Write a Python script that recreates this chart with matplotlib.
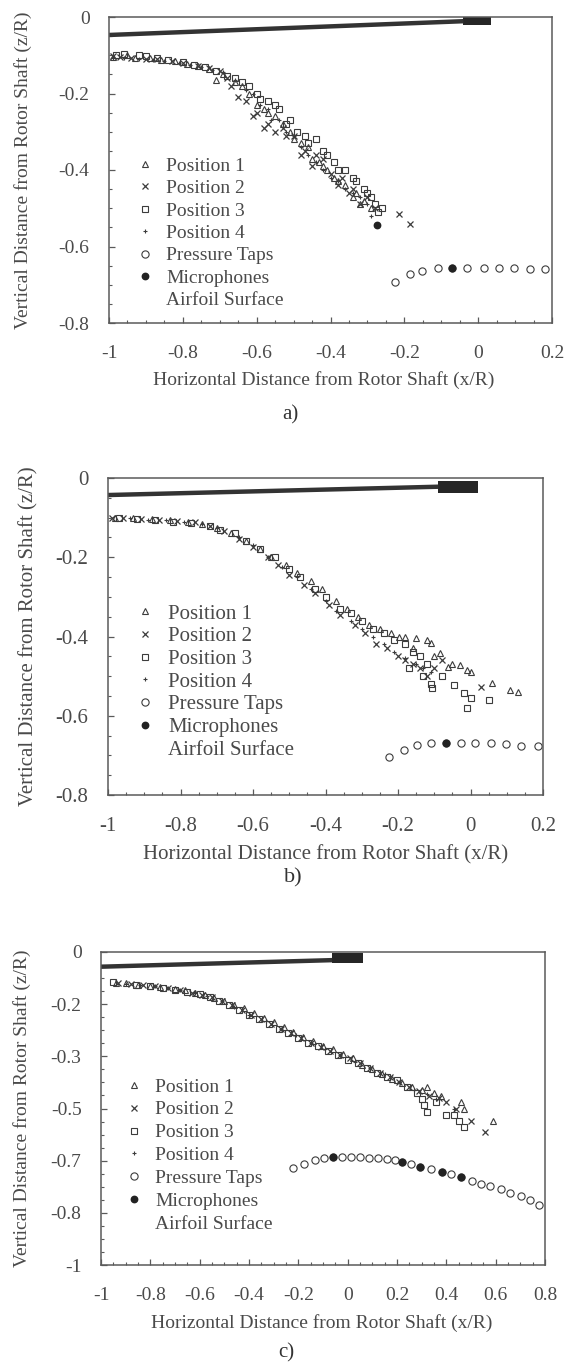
import matplotlib
matplotlib.use("Agg")
import matplotlib.pyplot as plt
from matplotlib.lines import Line2D
from matplotlib.patches import Rectangle
from matplotlib.ticker import AutoMinorLocator

plt.rcParams['font.family'] = ['Liberation Serif', 'DejaVu Serif']

# ---------------- data (x/R, z/R) ----------------
# panel a)
a_p1_x = [-0.99, -0.93, -0.86, -0.79, -0.73, -0.71, -0.66, -0.62, -0.58, -0.55, -0.51, -0.48, -0.45, -0.43, -0.41, -0.38, -0.36, -0.33, -0.31, -0.29,
          -0.95, -0.89, -0.82, -0.76, -0.69, -0.64, -0.6, -0.57, -0.53, -0.5, -0.46, -0.42, -0.39, -0.34, -0.32]
a_p1_y = [-0.105, -0.107, -0.112, -0.122, -0.135, -0.165, -0.17, -0.2, -0.24, -0.26, -0.3, -0.33, -0.37, -0.38, -0.4, -0.43, -0.44, -0.46, -0.48, -0.5,
          -0.1, -0.108, -0.114, -0.128, -0.15, -0.18, -0.23, -0.25, -0.28, -0.32, -0.34, -0.39, -0.42, -0.47, -0.49]
a_p2_x = [-0.97, -0.9, -0.83, -0.76, -0.7, -0.67, -0.65, -0.6, -0.57, -0.53, -0.5, -0.47, -0.44, -0.4, -0.37, -0.34, -0.3, -0.28, -0.215, -0.185,
          -0.99, -0.94, -0.87, -0.8, -0.73, -0.68, -0.63, -0.61, -0.58, -0.55, -0.52, -0.48, -0.45, -0.42, -0.38, -0.35, -0.32]
a_p2_y = [-0.104, -0.11, -0.115, -0.128, -0.14, -0.18, -0.21, -0.25, -0.28, -0.29, -0.31, -0.35, -0.36, -0.41, -0.42, -0.45, -0.47, -0.5, -0.514, -0.54,
          -0.102, -0.106, -0.11, -0.12, -0.133, -0.16, -0.22, -0.26, -0.29, -0.3, -0.31, -0.36, -0.39, -0.37, -0.44, -0.46, -0.49]
a_p3_x = [-0.98, -0.92, -0.87, -0.8, -0.74, -0.68, -0.64, -0.6, -0.57, -0.54, -0.52, -0.49, -0.46, -0.42, -0.39, -0.36, -0.33, -0.3, -0.28, -0.27,
          -0.96, -0.9, -0.84, -0.77, -0.71, -0.66, -0.62, -0.59, -0.55, -0.51, -0.47, -0.44, -0.41, -0.38, -0.34, -0.31, -0.29, -0.26]
a_p3_y = [-0.1, -0.1, -0.108, -0.118, -0.13, -0.155, -0.17, -0.2, -0.22, -0.24, -0.28, -0.3, -0.33, -0.35, -0.38, -0.4, -0.43, -0.46, -0.49, -0.51,
          -0.098, -0.103, -0.112, -0.125, -0.14, -0.16, -0.18, -0.215, -0.23, -0.27, -0.31, -0.32, -0.36, -0.4, -0.42, -0.45, -0.47, -0.5]
a_p4_x = [-0.96, -0.88, -0.81, -0.75, -0.69, -0.63, -0.59, -0.56, -0.52, -0.48, -0.44, -0.4, -0.36, -0.32, -0.29, -0.27,
          -0.99, -0.92, -0.85, -0.78, -0.72, -0.66, -0.61, -0.57, -0.54, -0.5, -0.46, -0.42, -0.38, -0.34, -0.3]
a_p4_y = [-0.108, -0.113, -0.12, -0.132, -0.145, -0.19, -0.23, -0.27, -0.3, -0.34, -0.38, -0.42, -0.45, -0.47, -0.52, -0.54,
          -0.108, -0.11, -0.116, -0.125, -0.138, -0.165, -0.2, -0.24, -0.27, -0.31, -0.36, -0.4, -0.43, -0.46, -0.49]
a_tap_x = [-0.226, -0.185, -0.152, -0.11, -0.07, -0.03, 0.015, 0.056, 0.097, 0.14, 0.18]
a_tap_y = [-0.693, -0.672, -0.663, -0.657, -0.655, -0.655, -0.655, -0.655, -0.656, -0.658, -0.66]
a_mic_x = [-0.07, -0.275]
a_mic_y = [-0.655, -0.545]

# panel b)
b_p1_x = [-0.98, -0.88, -0.78, -0.7, -0.62, -0.55, -0.48, -0.41, -0.34, -0.28, -0.22, -0.198, -0.15, -0.108, -0.084, -0.063, -0.03, -0.009, 0.0, 0.06, 0.11, 0.13,
          -0.93, -0.83, -0.74, -0.66, -0.58, -0.51, -0.44, -0.37, -0.31, -0.25, -0.18, -0.12, -0.16, -0.1, -0.05]
b_p1_y = [-0.1, -0.103, -0.11, -0.125, -0.16, -0.2, -0.24, -0.28, -0.33, -0.37, -0.39, -0.4, -0.405, -0.417, -0.442, -0.476, -0.472, -0.485, -0.49, -0.518, -0.535, -0.54,
          -0.1, -0.106, -0.115, -0.14, -0.18, -0.22, -0.26, -0.31, -0.35, -0.38, -0.4, -0.41, -0.43, -0.45, -0.47]
b_p2_x = [-0.96, -0.86, -0.76, -0.68, -0.6, -0.53, -0.46, -0.39, -0.32, -0.26, -0.2, -0.16, -0.12, -0.1, 0.03,
          -0.99, -0.91, -0.81, -0.72, -0.64, -0.56, -0.5, -0.43, -0.36, -0.29, -0.23, -0.18, -0.14, -0.08]
b_p2_y = [-0.1, -0.105, -0.112, -0.135, -0.175, -0.22, -0.27, -0.32, -0.37, -0.42, -0.45, -0.47, -0.5, -0.48, -0.527,
          -0.1, -0.103, -0.108, -0.12, -0.155, -0.2, -0.245, -0.29, -0.345, -0.39, -0.43, -0.46, -0.48, -0.46]
b_p3_x = [-0.92, -0.82, -0.72, -0.65, -0.58, -0.5, -0.43, -0.36, -0.3, -0.24, -0.18, -0.14, -0.17, -0.13, -0.105, -0.045, -0.019, 0.0, -0.01, 0.05,
          -0.97, -0.87, -0.77, -0.69, -0.62, -0.54, -0.47, -0.4, -0.33, -0.27, -0.21, -0.16, -0.12, -0.08, -0.11]
b_p3_y = [-0.104, -0.11, -0.12, -0.14, -0.18, -0.23, -0.28, -0.33, -0.36, -0.39, -0.42, -0.45, -0.48, -0.5, -0.531, -0.522, -0.543, -0.556, -0.581, -0.56,
          -0.102, -0.107, -0.114, -0.13, -0.16, -0.2, -0.25, -0.3, -0.34, -0.38, -0.41, -0.44, -0.47, -0.5, -0.52]
b_p4_x = [-0.94, -0.84, -0.74, -0.64, -0.56, -0.48, -0.4, -0.33, -0.27, -0.21, -0.15, -0.11,
          -0.89, -0.79, -0.7, -0.6, -0.52, -0.44, -0.37, -0.3, -0.24, -0.18, -0.13]
b_p4_y = [-0.1, -0.106, -0.115, -0.15, -0.2, -0.25, -0.31, -0.36, -0.4, -0.44, -0.47, -0.49,
          -0.105, -0.11, -0.125, -0.17, -0.225, -0.28, -0.335, -0.38, -0.42, -0.455, -0.48]
b_tap_x = [-0.225, -0.183, -0.147, -0.108, -0.067, -0.027, 0.012, 0.056, 0.098, 0.14, 0.185]
b_tap_y = [-0.703, -0.686, -0.674, -0.67, -0.668, -0.668, -0.67, -0.67, -0.672, -0.676, -0.677]
b_mic_x = [-0.067]
b_mic_y = [-0.668]

# panel c)
c_p1_x = [-0.94, -0.85, -0.76, -0.66, -0.58, -0.5, -0.42, -0.34, -0.26, -0.18, -0.1, -0.02, 0.06, 0.14, 0.22, 0.3, 0.32, 0.38, 0.46, 0.47, 0.59,
          -0.9, -0.8, -0.7, -0.62, -0.54, -0.46, -0.38, -0.3, -0.22, -0.14, -0.06, 0.02, 0.1, 0.18, 0.26, 0.35]
c_p1_y = [-0.098, -0.105, -0.112, -0.122, -0.138, -0.155, -0.18, -0.21, -0.24, -0.27, -0.3, -0.325, -0.36, -0.39, -0.42, -0.44, -0.43, -0.46, -0.48, -0.5, -0.54,
          -0.1, -0.108, -0.118, -0.13, -0.148, -0.168, -0.195, -0.225, -0.255, -0.285, -0.31, -0.34, -0.375, -0.405, -0.43, -0.45]
c_p2_x = [-0.93, -0.83, -0.73, -0.63, -0.55, -0.47, -0.39, -0.31, -0.23, -0.15, -0.07, 0.01, 0.09, 0.17, 0.25, 0.33, 0.4, 0.5, 0.556,
          -0.88, -0.78, -0.68, -0.59, -0.51, -0.43, -0.35, -0.27, -0.19, -0.11, -0.03, 0.05, 0.13, 0.21, 0.29, 0.37, 0.44]
c_p2_y = [-0.1, -0.107, -0.115, -0.13, -0.145, -0.17, -0.2, -0.23, -0.26, -0.29, -0.315, -0.34, -0.37, -0.4, -0.43, -0.46, -0.48, -0.54, -0.574,
          -0.103, -0.11, -0.122, -0.138, -0.158, -0.185, -0.215, -0.245, -0.275, -0.305, -0.33, -0.355, -0.385, -0.415, -0.445, -0.465, -0.5]
c_p3_x = [-0.95, -0.8, -0.7, -0.6, -0.52, -0.44, -0.36, -0.28, -0.2, -0.12, -0.04, 0.04, 0.12, 0.2, 0.28, 0.31, 0.32, 0.4, 0.45, 0.47,
          -0.86, -0.75, -0.65, -0.56, -0.48, -0.4, -0.32, -0.24, -0.16, -0.08, 0.0, 0.08, 0.16, 0.24, 0.3, 0.36, 0.43]
c_p3_y = [-0.097, -0.11, -0.12, -0.135, -0.155, -0.185, -0.215, -0.245, -0.275, -0.3, -0.33, -0.355, -0.385, -0.41, -0.45, -0.49, -0.51, -0.52, -0.54, -0.56,
          -0.105, -0.115, -0.128, -0.145, -0.17, -0.2, -0.23, -0.26, -0.29, -0.315, -0.345, -0.37, -0.4, -0.43, -0.47, -0.48, -0.52]
c_p4_x = [-0.9, -0.78, -0.68, -0.57, -0.46, -0.33, -0.21, -0.09, 0.03, 0.15, 0.27, 0.36, 0.43,
          -0.84, -0.73, -0.62, -0.51, -0.4, -0.27, -0.15, -0.03, 0.09, 0.21, 0.32]
c_p4_y = [-0.102, -0.11, -0.12, -0.14, -0.175, -0.22, -0.265, -0.31, -0.35, -0.39, -0.44, -0.47, -0.5,
          -0.106, -0.116, -0.13, -0.158, -0.2, -0.245, -0.29, -0.33, -0.37, -0.415, -0.455]
c_tap_x = [-0.221, -0.177, -0.133, -0.096, -0.060, -0.023, 0.014, 0.050, 0.087, 0.124, 0.160, 0.190, 0.219, 0.256,
           0.293, 0.336, 0.381, 0.417, 0.461, 0.505, 0.542, 0.579, 0.623, 0.659, 0.703, 0.740, 0.777]
c_tap_y = [-0.691, -0.678, -0.665, -0.659, -0.656, -0.656, -0.656, -0.656, -0.657, -0.659, -0.662, -0.665, -0.671, -0.678,
           -0.686, -0.694, -0.702, -0.709, -0.720, -0.732, -0.740, -0.748, -0.757, -0.769, -0.780, -0.792, -0.808]
c_mic_x = [-0.060, 0.219, 0.293, 0.381, 0.461]
c_mic_y = [-0.656, -0.671, -0.686, -0.702, -0.720]

# blade: (root x, root z, tip x, tip z) and hub block (x0, x1, z0, z1)
a_blade = [-1.0, -0.047, -0.04, -0.011]
a_hub = [-0.04, 0.035, -0.001, -0.021]
b_blade = [-1.0, -0.043, -0.089, -0.022]
b_hub = [-0.089, 0.02, -0.008, -0.038]
c_blade = [-1.0, -0.047, -0.063, -0.026]
c_hub = [-0.063, 0.062, -0.003, -0.036]

ab_xticks = [-1, -0.8, -0.6, -0.4, -0.2, 0, 0.2]
ab_xlabels = ['-1', '-0.8', '-0.6', '-0.4', '-0.2', '0', '0.2']
ab_yticks = [0, -0.2, -0.4, -0.6, -0.8]
ab_ylabels = ['0', '-0.2', '-0.4', '-0.6', '-0.8']
c_xticks = [-1, -0.8, -0.6, -0.4, -0.2, 0, 0.2, 0.4, 0.6, 0.8]
c_xlabels = ['-1', '-0.8', '-0.6', '-0.4', '-0.2', '0', '0.2', '0.4', '0.6', '0.8']
c_yticks = [0, -1/6, -2/6, -3/6, -4/6, -5/6, -1]
c_ylabels = ['0', '-0.2', '-0.3', '-0.5', '-0.7', '-0.8', '-1']

labels = ['Position 1', 'Position 2', 'Position 3', 'Position 4', 'Pressure Taps', 'Microphones', 'Airfoil Surface']

# ---------------- figure ----------------
W, H = 568, 1363
fig = plt.figure(figsize=(W / 100, H / 100), dpi=100)
fig.patch.set_facecolor('white')
dark = '#3c3c3c'
txt = '#4a4a4a'


def fx(px):
    return px / W


def fy(py):
    return 1 - py / H


def make_panel(box, xlim, ylim, xt, xl, yt, yl, fs, series, taps, mics, blade, hub,
               leg_xy, leg_sp, ylab_x, xlab_xy, cap_xy, cap):
    l, t, r, b = box
    ax = fig.add_axes([fx(l), fy(b), (r - l) / W, (b - t) / H])
    ax.set_xlim(xlim)
    ax.set_ylim(ylim)
    for s in ax.spines.values():
        s.set_color('#5a5a5a')
        s.set_linewidth(1.1)
    ax.set_xticks(xt)
    ax.set_xticklabels(xl)
    ax.set_yticks(yt)
    ax.set_yticklabels(yl)
    ax.xaxis.set_minor_locator(AutoMinorLocator(4))
    ax.yaxis.set_minor_locator(AutoMinorLocator(4))
    ax.tick_params(which='both', direction='in', colors='#5a5a5a', labelcolor=txt, labelsize=fs)
    ax.tick_params(which='major', length=4, width=0.9)
    ax.tick_params(which='minor', length=2.5, width=0.8)
    ax.tick_params(axis='x', which='major', pad=16)
    ax.tick_params(axis='y', which='major', pad=14)

    # blade and hub
    ax.plot([blade[0], blade[2]], [blade[1], blade[3]], color='#333333', lw=3.2, solid_capstyle='butt')
    ax.add_patch(Rectangle((hub[0], hub[3]), hub[1] - hub[0], hub[2] - hub[3], color='#262626', lw=0))

    styles = [dict(marker='^', ms=4.5, mfc='none', mew=0.8),
              dict(marker='x', ms=4.0, mew=0.9),
              dict(marker='s', ms=4.3, mfc='none', mew=0.8),
              dict(marker='+', ms=3.0, mew=0.8)]
    handles = []
    for (sx, sy), st, lab in zip(series, styles, labels[:4]):
        h, = ax.plot(sx, sy, ls='none', color=dark, mec=dark, label=lab, **st)
        handles.append(h)
    h, = ax.plot(taps[0], taps[1], ls='none', marker='o', ms=5.2, mfc='white', mec=dark, mew=0.8, label=labels[4])
    handles.append(h)
    h, = ax.plot(mics[0], mics[1], ls='none', marker='o', ms=4.6, mfc='#222222', mec='#222222', label=labels[5])
    handles.append(h)
    handles.append(Line2D([], [], ls='none', label=labels[6]))

    ax.legend(handles=handles, loc='upper left', bbox_to_anchor=(fx(leg_xy[0]), fy(leg_xy[1])),
              bbox_transform=fig.transFigure, frameon=False, borderpad=0, borderaxespad=0,
              handlelength=1.0, handletextpad=0.6, labelspacing=leg_sp,
              prop={'size': fs}, labelcolor=txt)

    fig.text(fx(ylab_x), fy((t + b) / 2), 'Vertical Distance from Rotor Shaft (z/R)', rotation=90,
             ha='center', va='center', fontsize=fs, color=txt)
    fig.text(fx(xlab_xy[0]), fy(xlab_xy[1]), 'Horizontal Distance from Rotor Shaft (x/R)',
             ha='center', va='center', fontsize=fs, color=txt)
    fig.text(fx(cap_xy[0]), fy(cap_xy[1]), cap, ha='center', va='center', fontsize=fs + 1, color='#333333')
    return ax


make_panel((109, 17, 552, 323), (-1, 0.2), (-0.8, 0), ab_xticks, ab_xlabels, ab_yticks, ab_ylabels, 14,
           [(a_p1_x, a_p1_y), (a_p2_x, a_p2_y), (a_p3_x, a_p3_y), (a_p4_x, a_p4_y)],
           (a_tap_x, a_tap_y), (a_mic_x, a_mic_y), a_blade, a_hub,
           (135, 157), 0.25, 23, (324, 380), (290, 415), 'a)')

make_panel((108, 478, 543, 795), (-1, 0.2), (-0.8, 0), ab_xticks, ab_xlabels, ab_yticks, ab_ylabels, 15,
           [(b_p1_x, b_p1_y), (b_p2_x, b_p2_y), (b_p3_x, b_p3_y), (b_p4_x, b_p4_y)],
           (b_tap_x, b_tap_y), (b_mic_x, b_mic_y), b_blade, b_hub,
           (135, 604), 0.15, 29, (326, 855), (293, 878), 'b)')

make_panel((101, 952, 545, 1265), (-1, 0.8), (-1, 0), c_xticks, c_xlabels, c_yticks, c_ylabels, 14,
           [(c_p1_x, c_p1_y), (c_p2_x, c_p2_y), (c_p3_x, c_p3_y), (c_p4_x, c_p4_y)],
           (c_tap_x, c_tap_y), (c_mic_x, c_mic_y), c_blade, c_hub,
           (124, 1078), 0.27, 22, (322, 1323), (286, 1353), 'c)')

fig.savefig('out.png', dpi=100, facecolor='white')
